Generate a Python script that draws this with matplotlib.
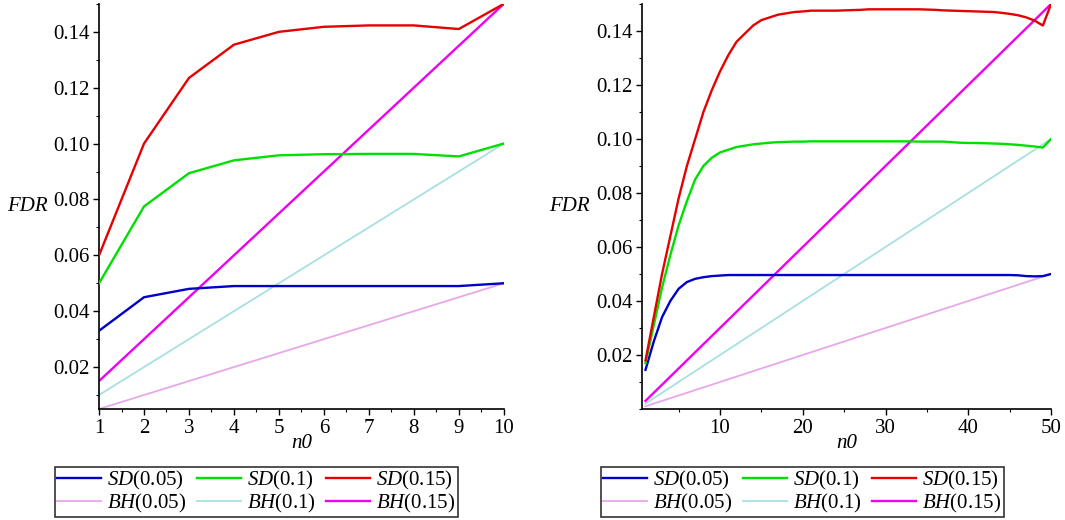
import matplotlib
matplotlib.use("Agg")
import matplotlib.pyplot as plt
from matplotlib.ticker import MultipleLocator, FormatStrFormatter

plt.rcParams['font.family'] = ['Liberation Serif', 'DejaVu Serif']
plt.rcParams['mathtext.fontset'] = 'custom'
plt.rcParams['mathtext.it'] = 'Liberation Serif:italic'
plt.rcParams['mathtext.rm'] = 'Liberation Serif'

# ---- data, left panel (m = 10)
n0_left = [1, 2, 3, 4, 5, 6, 7, 8, 9, 10]
sd005_left = [0.033, 0.045, 0.048, 0.049, 0.049, 0.049, 0.049, 0.049, 0.049, 0.050]
sd010_left = [0.050, 0.0775, 0.0894, 0.094, 0.0958, 0.0962, 0.0963, 0.0963, 0.0954, 0.100]
sd015_left = [0.060, 0.100, 0.1235, 0.1354, 0.140, 0.1418, 0.1423, 0.1423, 0.141, 0.150]
bh_x_left = [1, 10]
bh005_left = [0.005, 0.05]
bh010_left = [0.010, 0.10]
bh015_left = [0.015, 0.15]

# ---- data, right panel (m = 50)
n0_right = list(range(1, 51))
sd005_right = [0.0145, 0.025, 0.034, 0.040, 0.0445, 0.047, 0.0482, 0.0488, 0.0492, 0.0494,
               0.0496, 0.0496, 0.0496, 0.0496, 0.0496, 0.0496, 0.0496, 0.0496, 0.0496, 0.0496,
               0.0496, 0.0496, 0.0496, 0.0496, 0.0496, 0.0496, 0.0496, 0.0496, 0.0496, 0.0496,
               0.0496, 0.0496, 0.0496, 0.0496, 0.0496, 0.0496, 0.0496, 0.0496, 0.0496, 0.0496,
               0.0496, 0.0496, 0.0496, 0.0496, 0.0496, 0.0495, 0.0492, 0.0491, 0.0492, 0.050]
sd010_right = [0.017, 0.031, 0.045, 0.057, 0.068, 0.077, 0.085, 0.090, 0.093, 0.095,
               0.096, 0.097, 0.0975, 0.098, 0.0983, 0.0986, 0.0988, 0.0989, 0.099, 0.099,
               0.0991, 0.0991, 0.0991, 0.0991, 0.0991, 0.0991, 0.0991, 0.0991, 0.0991, 0.0991,
               0.0991, 0.0991, 0.0991, 0.099, 0.099, 0.099, 0.099, 0.0988, 0.0986, 0.0985,
               0.0985, 0.0984, 0.0983, 0.0982, 0.098, 0.0978, 0.0975, 0.0972, 0.0968, 0.100]
sd015_right = [0.018, 0.034, 0.050, 0.064, 0.078, 0.090, 0.100, 0.110, 0.118, 0.125,
               0.131, 0.136, 0.139, 0.142, 0.144, 0.145, 0.146, 0.1465, 0.147, 0.1472,
               0.1475, 0.1475, 0.1475, 0.1475, 0.1476, 0.1477, 0.1478, 0.148, 0.148, 0.148,
               0.148, 0.148, 0.148, 0.148, 0.1479, 0.1478, 0.1476, 0.1475, 0.1474, 0.1473,
               0.1472, 0.1471, 0.147, 0.1467, 0.1463, 0.1458, 0.145, 0.1438, 0.142, 0.150]
bh_x_right = [1, 50]
bh005_right = [0.001, 0.05]
bh010_right = [0.002, 0.10]
bh015_right = [0.003, 0.15]

y_ticks = [0.02, 0.04, 0.06, 0.08, 0.10, 0.12, 0.14]

labels = [r'$SD$(0.05)', r'$SD$(0.1)', r'$SD$(0.15)',
          r'$BH$(0.05)', r'$BH$(0.1)', r'$BH$(0.15)']
colors = ['#0000C8', '#00E000', '#E60000', '#E8A8E8', '#A8E0E0', '#F000F0']
widths = [1.7, 1.7, 1.7, 1.3, 1.3, 1.7]

fig = plt.figure(figsize=(10.65, 5.2), dpi=100)
ax1 = fig.add_axes([0.093, 0.2135, 0.380, 0.779])
ax2 = fig.add_axes([0.603, 0.2135, 0.384, 0.779])


def draw(ax, x_sd, sds, x_bh, bhs):
    handles = []
    for i, y in enumerate(sds):
        h, = ax.plot(x_sd, y, color=colors[i], lw=widths[i], zorder=3)
        handles.append(h)
    for i, y in enumerate(bhs):
        h, = ax.plot(x_bh, y, color=colors[3 + i], lw=widths[3 + i], zorder=2)
        handles.append(h)
    # legend fills column by column -> reorder so rows read SD..., BH...
    order = [0, 3, 1, 4, 2, 5]
    for s in ['top', 'right']:
        ax.spines[s].set_visible(False)
    for s in ['left', 'bottom']:
        ax.spines[s].set_linewidth(1.2)
    ax.tick_params(which='major', labelsize=15, length=4, width=1, pad=3)
    ax.tick_params(which='minor', length=2.5, width=0.8)
    ax.set_yticks(y_ticks)
    ax.yaxis.set_minor_locator(MultipleLocator(0.01))
    ax.yaxis.set_major_formatter(FormatStrFormatter('%.2f'))
    ax.set_ylabel('FDR', fontsize=15, style='italic', rotation=0, va='center')
    ax.yaxis.set_label_coords(-0.178, 0.50)
    ax.set_xlabel('n0', fontsize=15, style='italic', va='center')
    ax.xaxis.set_label_coords(0.5, -0.084)
    return [handles[k] for k in order], [labels[k] for k in order]


h1, l1 = draw(ax1, n0_left, [sd005_left, sd010_left, sd015_left],
              bh_x_left, [bh005_left, bh010_left, bh015_left])
ax1.set_xlim(1, 10)
ax1.set_ylim(0.005, 0.15)
ax1.xaxis.set_major_locator(MultipleLocator(1))
ax1.xaxis.set_minor_locator(MultipleLocator(0.5))

h2, l2 = draw(ax2, n0_right, [sd005_right, sd010_right, sd015_right],
              bh_x_right, [bh005_right, bh010_right, bh015_right])
ax2.set_xlim(0.6, 50)
ax2.set_ylim(0, 0.15)
ax2.set_xticks([10, 20, 30, 40, 50])
ax2.xaxis.set_minor_locator(MultipleLocator(5))

for h, l, xc in [(h1, l1, 256.5 / 1065), (h2, l2, 802.5 / 1065)]:
    leg = fig.legend(h, l, loc='upper center', bbox_to_anchor=(xc, 1 - 467 / 520),
                     ncol=3, fontsize=15, frameon=True, fancybox=False,
                     edgecolor='black', handlelength=2.1, handletextpad=0.3,
                     columnspacing=0.5, labelspacing=0.0, borderpad=0.1,
                     borderaxespad=0)
    leg.get_frame().set_linewidth(1.2)

fig.savefig('out.png', dpi=100)
